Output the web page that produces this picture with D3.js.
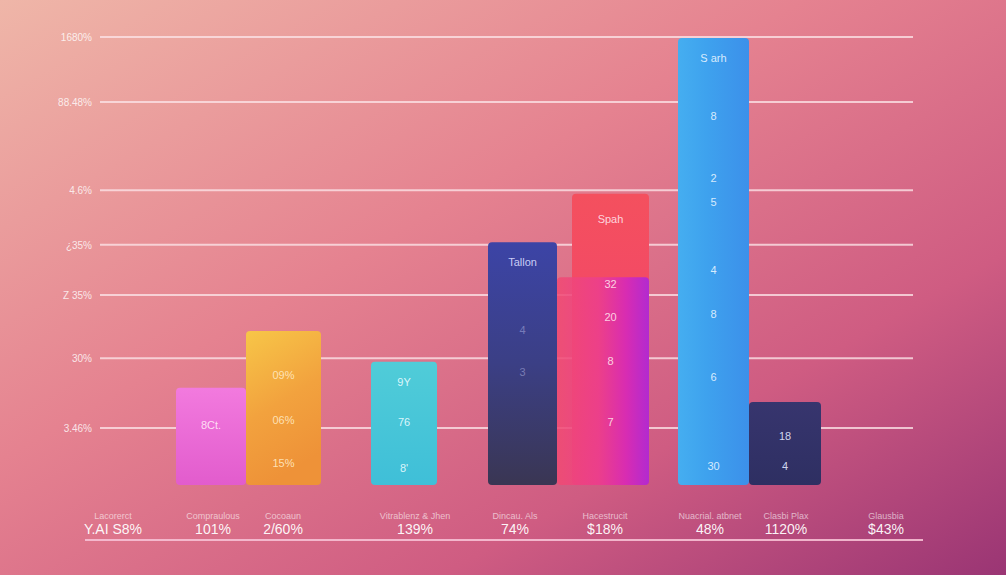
<!DOCTYPE html>
<html>
<head>
<meta charset="utf-8">
<script src="https://cdn.jsdelivr.net/npm/d3@7"></script>
<style>
html,body{margin:0;padding:0;background:#e07a88;}
svg{display:block;}
text{font-family:"Liberation Sans","DejaVu Sans",Arial,sans-serif;}
</style>
</head>
<body>
<svg id="chart" width="1006" height="575"></svg>
<script>
// ---------- data ----------
const gridValues = [100, 85.5, 65.8, 53.6, 42.4, 28.3, 12.7];
const gridLabels = ["1680%", "88.48%", "4.6%", "¿35%", "Z 35%", "30%", "3.46%"];

const barNames   = ["pink", "orange", "cyan", "navy", "red", "magenta", "blue", "darknavy"];
const barStart   = [9.1, 16.1, 28.6, 40.3, 48.7, 47.2, 59.3, 66.4];
const barEnd     = [16.1, 23.6, 35.2, 47.2, 56.4, 56.4, 66.4, 73.6];
const barValues  = [21.7, 34.4, 27.5, 54.2, 65.0, 46.4, 99.8, 18.5];

// in-bar labels: bar index, value level, text
const innerBar   = [0, 1,1,1, 2,2,2, 3,3,3, 4,4,4,4,4, 6,6,6,6,6,6,6,6, 7,7];
const innerLevel = [13.4, 24.5,14.5,4.9, 23.0,14.1,3.8, 49.8,34.6,25.2, 59.4,44.9,37.5,27.7,14.1, 95.3,82.4,68.5,63.2,48.0,38.2,24.1,4.2, 10.9,4.2];
const innerText  = ["8Ct.", "09%","06%","15%", "9Y","76","8'", "Tallon","4","3", "Spah","32","20","8","7", "S arh","8","2","5","4","8","6","30", "18","4"];

const catX     = [2.8, 12.8, 19.8, 33.0, 43.0, 52.0, 62.5, 70.1, 80.1];
const catSmall = ["Lacorerct", "Compraulous", "Cocoaun", "Vitrablenz & Jhen", "Dincau. Als", "Hacestrucit", "Nuacrial. atbnet", "Clasbi Plax", "Glausbia"];
const catBig   = ["Y.AI S8%", "101%", "2/60%", "139%", "74%", "$18%", "48%", "1120%", "$43%"];

// ---------- drawing ----------
const svg = d3.select("#chart");
const W = 1006, H = 575;
const defs = svg.append("defs");

function linGrad(id, x1, y1, x2, y2, stops) {
  const g = defs.append("linearGradient").attr("id", id)
    .attr("x1", x1).attr("y1", y1).attr("x2", x2).attr("y2", y2);
  stops.forEach(s => g.append("stop").attr("offset", s[0]).attr("stop-color", s[1]).attr("stop-opacity", s[2] == null ? 1 : s[2]));
}

linGrad("bg", "0%", "0%", "100%", "100%", [["0%", "#efb6a8"], ["40%", "#e58290"], ["72%", "#cf5c82"], ["100%", "#9a3574"]]);
linGrad("g-pink", "0%", "0%", "0%", "100%", [["0%", "#f27ade"], ["100%", "#e25ccd"]]);
linGrad("g-orange", "0%", "0%", "0.3", "1", [["0%", "#f7c648"], ["55%", "#f2a23e"], ["100%", "#ee9238"]]);
linGrad("g-cyan", "0%", "0%", "0%", "100%", [["0%", "#50ccd8"], ["100%", "#3fbfd8"]]);
linGrad("g-navy", "0%", "0%", "0%", "100%", [["0%", "#3c44a6"], ["50%", "#3b3f85"], ["100%", "#3a3653"]]);
linGrad("g-red", "0%", "0%", "0%", "100%", [["0%", "#f4505e"], ["60%", "#f2456a"], ["100%", "#e23a86"]]);
linGrad("g-magenta", "0%", "0%", "100%", "0%", [["0%", "#f14a72", 0.85], ["45%", "#ec3f8c", 0.9], ["75%", "#d82cb2"], ["100%", "#b22ad0"]]);
linGrad("g-blue", "0%", "0%", "100%", "0%", [["0%", "#45aef0"], ["40%", "#3ea2ee"], ["100%", "#3c90ea"]]);
linGrad("g-darknavy", "0%", "0%", "0%", "100%", [["0%", "#37356e"], ["100%", "#2e2f62"]]);

svg.append("rect").attr("width", W).attr("height", H).attr("fill", "url(#bg)");

const y = d3.scaleLinear().domain([0, 100]).range([485, 37]);
const x = d3.scaleLinear().domain([0, 84]).range([85, 925]);

// gridlines
svg.append("g").selectAll("line").data(gridValues).join("line")
  .attr("x1", 100).attr("x2", 913)
  .attr("y1", d => y(d)).attr("y2", d => y(d))
  .attr("stroke", "#fbe2e6").attr("stroke-opacity", 0.8).attr("stroke-width", 2);

// y tick labels via axis
const yAxis = d3.axisLeft(y).tickValues(gridValues)
  .tickFormat((d, i) => gridLabels[i]).tickSize(0).tickPadding(0);
const ya = svg.append("g").attr("transform", "translate(92,0)").call(yAxis);
ya.select(".domain").remove();
ya.selectAll("text").attr("fill", "#ffffff").attr("fill-opacity", 0.8)
  .attr("font-size", 10).attr("font-family", "Liberation Sans, sans-serif");

// bars
const barIdx = d3.range(barNames.length);
svg.append("g").selectAll("rect").data(barIdx).join("rect")
  .attr("x", i => x(barStart[i]))
  .attr("width", i => x(barEnd[i]) - x(barStart[i]))
  .attr("y", i => y(barValues[i]))
  .attr("height", i => y(0) - y(barValues[i]))
  .attr("rx", 4).attr("ry", 4)
  .attr("fill", i => "url(#g-" + barNames[i] + ")");

// in-bar labels
const innerColor = ["#ffe6f6", "#ffe8c0", "#e8fbff", "#d8dcff", "#ffe0ea", "#ffe0ea", "#e6f4ff", "#e0e4ff"];
svg.append("g").selectAll("text").data(innerText).join("text")
  .attr("x", (d, i) => (x(barStart[innerBar[i]]) + x(barEnd[innerBar[i]])) / 2)
  .attr("y", (d, i) => y(innerLevel[i]))
  .attr("dy", "0.35em")
  .attr("text-anchor", "middle")
  .attr("font-size", 11)
  .attr("fill", (d, i) => innerColor[innerBar[i]])
  .attr("fill-opacity", (d, i) => (innerBar[i] === 3 && d !== "Tallon") ? 0.4 : 0.92)
  .text(d => d);

// bottom axis line
svg.append("line").attr("x1", 85).attr("x2", 923).attr("y1", 540).attr("y2", 540)
  .attr("stroke", "#f6c0d4").attr("stroke-width", 2).attr("stroke-opacity", 0.9);

// category labels
const cats = svg.append("g");
cats.selectAll("text.small").data(catSmall).join("text").attr("class", "small")
  .attr("x", (d, i) => x(catX[i])).attr("y", 519)
  .attr("text-anchor", "middle").attr("font-size", 9)
  .attr("fill", "#ffffff").attr("fill-opacity", 0.6).text(d => d);
cats.selectAll("text.big").data(catBig).join("text").attr("class", "big")
  .attr("x", (d, i) => x(catX[i])).attr("y", 534)
  .attr("text-anchor", "middle").attr("font-size", 14)
  .attr("fill", "#ffffff").attr("fill-opacity", 0.95).text(d => d);
</script>
</body>
</html>
